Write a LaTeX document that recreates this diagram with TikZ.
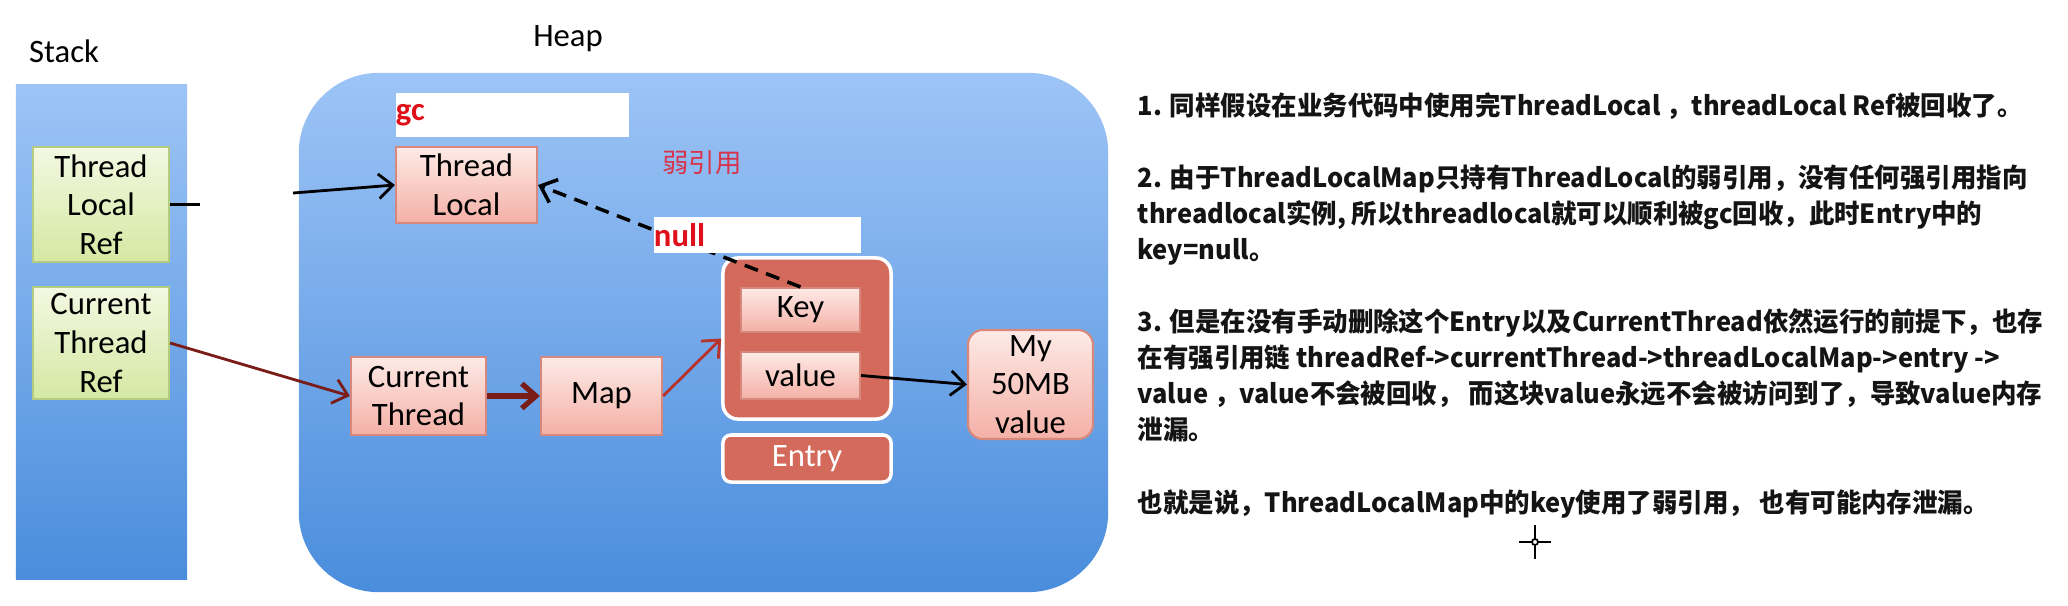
\documentclass[tikz,border=0pt]{standalone}
\usepackage{fontspec}
\usepackage{xcolor}
\usepackage{tikz}
\usetikzlibrary{arrows.meta,shadings}
\newfontfamily\cjk{Noto Sans CJK SC}
\newfontfamily\boxfont{Carlito}

\definecolor{bluetop}{HTML}{9DC4F6}
\definecolor{bluebot}{HTML}{4A8DDC}
\definecolor{greentop}{HTML}{F3F8E2}
\definecolor{greenbot}{HTML}{D5E8A2}
\definecolor{greenline}{HTML}{B4CC80}
\definecolor{pinktop}{HTML}{FDEAE6}
\definecolor{pinkbot}{HTML}{F4B0A6}
\definecolor{pinkline}{HTML}{D7887C}
\definecolor{entryred}{HTML}{D46A5B}
\definecolor{darkred}{HTML}{7A1C18}
\definecolor{maplink}{HTML}{B8322C}
\definecolor{labelred}{HTML}{E0101A}
\definecolor{weakred}{HTML}{D8334A}
\definecolor{notegray}{HTML}{141414}

\begin{document}
\begin{tikzpicture}[x=0.01cm, y=-0.01cm,
  boxtext/.style={font=\boxfont\fontsize{9.3}{11}\selectfont},
  area/.style={top color=bluetop, bottom color=bluebot, inner sep=0pt},
  refbox/.style={boxtext, draw=greenline, top color=greentop, bottom color=greenbot, line width=0.6pt, align=center, inner sep=0pt},
  objbox/.style={boxtext, draw=pinkline, top color=pinktop, bottom color=pinkbot, line width=0.6pt, align=center, inner sep=0pt},
  entrybox/.style={boxtext, fill=entryred, draw=white, line width=1pt, inner sep=0pt},
  tag/.style={font=\boxfont\bfseries\fontsize{9.3}{11}\selectfont, text=labelred, fill=white, align=left, inner sep=0pt},
  ref/.style={line width=0.8pt, -{Straight Barb[length=4pt, width=7pt]}},
  ]
\useasboundingbox (0,0) rectangle (2068,605);

% stack side
\node (stacklbl) at (64,51) [boxtext] {Stack};
\node (stack) at (101.5,332) [area, minimum width=1.71cm, minimum height=4.94cm] {};
\node (tlref) at (101,204.5) [refbox, minimum width=1.36cm, minimum height=1.15cm] {Thread\\Local\\Ref};
\node (ctref) at (101,343) [refbox, minimum width=1.36cm, minimum height=1.12cm] {Current\\Thread\\Ref};

% heap side
\node (heaplbl) at (568,39) [boxtext] {Heap};
\node (heap) at (703.5,332.5) [area, rounded corners=0.8cm, minimum width=8.09cm, minimum height=5.19cm] {};
\node (gc) at (512.5,115) [tag, text width=2.33cm, minimum height=0.44cm] {gc};
\node (tl) at (466.5,185) [objbox, minimum width=1.41cm, minimum height=0.76cm] {Thread\\Local};
\node (weak) at (702,163) [font=\cjk\fontsize{7.5}{9}\selectfont, text=weakred] {弱引用};
\node (entry) at (807,338.5) [entrybox, rounded corners=0.15cm, minimum width=1.68cm, minimum height=1.61cm] {};
\node (key) at (800.5,310) [objbox, minimum width=1.19cm, minimum height=0.44cm] {Key};
\node (value) at (800.5,375.5) [objbox, minimum width=1.19cm, minimum height=0.47cm] {value};
\node (entrylbl) at (807,458.5) [entrybox, rounded corners=0.08cm, text=white, minimum width=1.68cm, minimum height=0.47cm] {Entry};
\node (my) at (1030.5,384.5) [objbox, rounded corners=0.15cm, minimum width=1.25cm, minimum height=1.09cm] {My\\50MB\\value};
\node (ct) at (418.5,396) [objbox, minimum width=1.35cm, minimum height=0.78cm] {Current\\Thread};
\node (map) at (601.5,396) [objbox, minimum width=1.21cm, minimum height=0.78cm] {Map};

% references
\coordinate (cutA) at (200,204.5);
\coordinate (cutB) at (293,193);
\draw [line width=0.8pt] (tlref.east) -- (cutA);
\draw [ref] (cutB) -- (tl.west);
\draw [ref, draw=darkred] (ctref.east) -- (ct.west);
\draw [ref, draw=darkred, line width=1.5pt] (ct) -- (map);
\draw [ref, draw=maplink] (map.east) -- (entry.west);
\draw [ref] (value.east) -- (my.west);
\draw [ref, line width=1pt, dash pattern=on 4pt off 2.5pt] (key.north) -- (tl.east);
\node (null) at (757.5,235) [tag, text width=2.07cm, minimum height=0.36cm] {null};

% notes
\node (note) at (1137,92) [anchor=north west, align=left, inner sep=0pt, transform shape, xscale=0.965, text=notegray, font=\cjk\bfseries\fontsize{7.5}{10.25}\selectfont] {%
1. 同样假设在业务代码中使用完ThreadLocal ，threadLocal Ref被回收了。\\[10.25pt]%
2. 由于ThreadLocalMap只持有ThreadLocal的弱引用，没有任何强引用指向\\%
threadlocal实例, 所以threadlocal就可以顺利被gc回收，此时Entry中的\\%
key=null。\\[10.25pt]%
3. 但是在没有手动删除这个Entry以及CurrentThread依然运行的前提下，也存\\%
在有强引用链 threadRef->currentThread->threadLocalMap->entry ->\\%
value ，value不会被回收， 而这块value永远不会被访问到了，导致value内存\\%
泄漏。\\[10.25pt]%
也就是说，ThreadLocalMap中的key使用了弱引用， 也有可能内存泄漏。};

% cursor
\draw [line width=0.5pt] (1535,525) -- (1535,559) (1519,542) -- (1551,542);
\draw [line width=0.5pt, fill=white] (1535,542) circle [radius=0.03cm];
\end{tikzpicture}
\end{document}
